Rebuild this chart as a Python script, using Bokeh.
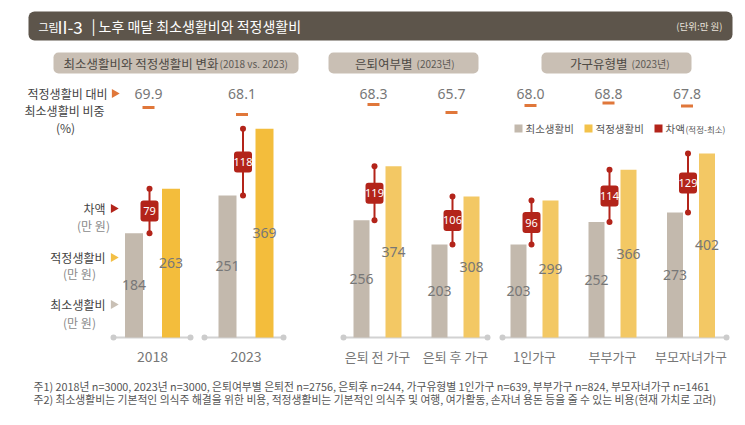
import math
from bokeh.plotting import figure
from bokeh.models import Range1d
from bokeh.core.properties import value
from bokeh.embed import file_html
from bokeh.resources import INLINE

# ---------------- data ----------------
years = ["2018", "2023"]
year_min = [184, 251]
year_opt = [263, 369]
year_diff = [79, 118]
year_ratio = [69.9, 68.1]

retire_cats = ["은퇴 전 가구", "은퇴 후 가구"]
retire_min = [256, 203]
retire_opt = [374, 308]
retire_diff = [119, 106]
retire_ratio = [68.3, 65.7]

house_cats = ["1인가구", "부부가구", "부모자녀가구"]
house_min = [203, 252, 273]
house_opt = [299, 366, 402]
house_diff = [96, 114, 129]
house_ratio = [68.0, 68.8, 67.8]

title_prefix = "그림"
title_num = "II-3"
title_main = "노후 매달 최소생활비와 적정생활비"
unit_text = "(단위:만 원)"
header_left = ("최소생활비와 적정생활비 변화", "(2018 vs. 2023)")
header_mid = ("은퇴여부별", "(2023년)")
header_right = ("가구유형별", "(2023년)")
legend_items = ["최소생활비", "적정생활비", "차액"]
legend_note = "(적정-최소)"
note1 = "주1) 2018년 n=3000, 2023년 n=3000, 은퇴여부별 은퇴전 n=2756, 은퇴후 n=244, 가구유형별 1인가구 n=639, 부부가구 n=824, 부모자녀가구 n=1461"
note2 = "주2) 최소생활비는 기본적인 의식주 해결을 위한 비용,  적정생활비는 기본적인 의식주 및 여행, 여가활동, 손자녀 용돈 등을 줄 수 있는 비용(현재 가치로 고려)"

# ---------------- style ----------------
KR = "Noto Sans CJK KR"
NUM = "Noto Sans"
GRAY = "#c3b9ad"
YEL_L = "#f3bd3c"
YEL_R = "#f3c864"
RED = "#b3241a"
ORANGE = "#e0773a"
DARK = "#5d554b"
HEAD = "#c9bfb4"
AXIS = "#d2d2d2"
TXT = "#444444"
VAL = "#777777"

W, H = 740, 418
p = figure(width=W, height=H, output_backend="svg", toolbar_location=None,
           x_range=Range1d(0, W), y_range=Range1d(H, 0),
           x_axis_location=None, y_axis_location=None, min_border=0,
           outline_line_color=None, tools="")
p.grid.visible = False
p.background_fill_color = "white"
p.border_fill_color = "white"

# value scales (baseline at y=337)
BASE = 337
kL, kR = 0.566, 0.458
p.extra_y_ranges = {
    "barL": Range1d(-(H - BASE) / kL, BASE / kL),
    "barR": Range1d(-(H - BASE) / kR, BASE / kR),
    "ratL": Range1d(69.9 - (H - 107) / 3.89, 69.9 + 107 / 3.89),
    "ratR": Range1d(68.0 - (H - 105) / 3.0, 68.0 + 105 / 3.0),
}


def txt(x, y, s, size, color, align="left", font=KR, style="normal", rng=None, baseline="middle"):
    kw = {"y_range_name": rng} if rng else {}
    p.text(x=x if isinstance(x, list) else [x], y=y if isinstance(y, list) else [y],
           text=s if isinstance(s, list) else [s],
           text_font=value(font), text_font_size=size, text_color=color,
           text_align=align, text_baseline=baseline, text_font_style=style, **kw)


# ---------------- title bar ----------------
p.quad(left=28, right=732, top=11, bottom=40, fill_color=DARK, line_color=None, border_radius=6)
txt(38, 26, title_prefix, "11px", "white")
txt(57, 25.5, title_num, "17px", "white", font=KR)
txt(91, 25, "|", "15px", "white", font=KR)
txt(98, 25.5, title_main, "14px", "white")
txt(722, 25.5, unit_text, "9.5px", "#e8e2da", align="right")

# ---------------- panel headers ----------------
for (l, r, split, gap, (a, b)) in [(53, 298, 218, 1, header_left), (328, 478, 412, 4, header_mid),
                                   (541, 691, 627, 4, header_right)]:
    p.quad(left=l, right=r, top=52, bottom=73, fill_color=HEAD, line_color=None, border_radius=5)
    txt(split, 62.5, a, "12.5px", "#4e4a45", align="right")
    txt(split + gap, 63, b, "10px", "#5e5a55", align="left")

# ---------------- left-side labels ----------------
txt(107, 93, "적정생활비 대비", "12px", TXT, align="right")
txt(64, 110, "최소생활비 비중", "12px", TXT, align="center")
txt(65, 127, "(%)", "12px", TXT, align="center")
txt(105, 208, "차액", "12px", TXT, align="right")
txt(93, 225, "(만 원)", "12px", "#8a8a8a", align="center")
txt(105, 257, "적정생활비", "12px", TXT, align="right")
txt(79, 273, "(만 원)", "12px", "#8a8a8a", align="center")
txt(105, 304, "최소생활비", "12px", TXT, align="right")
txt(79, 322, "(만 원)", "12px", "#8a8a8a", align="center")
p.scatter(x=[114, 113, 113, 113], y=[93, 208, 257, 304], marker="triangle",
          angle=-math.pi / 2, size=9, line_color=None,
          fill_color=[ORANGE, RED, "#f3bf45", "#c9c0b5"])

# ---------------- legend ----------------
p.scatter(x=[518, 588, 658], y=[128, 128, 128], marker="square", size=8, line_color=None,
          fill_color=[GRAY, "#f3c24a", RED])
txt(525, 128, legend_items[0], "10.5px", "#555555")
txt(595, 128, legend_items[1], "10.5px", "#555555")
txt(665, 128, legend_items[2], "10.5px", "#555555")
txt(685, 128.5, legend_note, "8.5px", "#555555")

# ---------------- axis lines ----------------
for (a, b) in [(113, 190), (204, 283), (343, 487), (502, 726)]:
    p.segment(x0=[a], y0=[BASE], x1=[b], y1=[BASE], line_color=AXIS, line_width=2)
    p.scatter(x=[a, b], y=[BASE, BASE], size=6, fill_color="#cccccc", line_color=None)


def panel(centers, mins, opts, diffs, ratios, cats, brng, rrng, half, bw, ycol, cat_size):
    gx = [c - half for c in centers]
    yx = [c + half for c in centers]
    mx = [c - 3 for c in centers]
    n = len(centers)
    p.vbar(x=gx, top=mins, bottom=0, width=bw, fill_color=GRAY, line_color=None, y_range_name=brng)
    p.vbar(x=yx, top=opts, bottom=0, width=bw, fill_color=ycol, line_color=None, y_range_name=brng)
    txt(gx, [m / 2 for m in mins], [str(m) for m in mins], "14px", VAL, align="center", font=NUM, rng=brng)
    txt(yx, [o / 2 for o in opts], [str(o) for o in opts], "14px", VAL, align="center", font=NUM, rng=brng)
    # difference markers
    p.segment(x0=mx, y0=mins, x1=mx, y1=opts, line_color=RED, line_width=2, y_range_name=brng)
    p.scatter(x=mx + mx, y=mins + opts, size=6, fill_color=RED, line_color=None, y_range_name=brng)
    mids = [(a + b) / 2 for a, b in zip(mins, opts)]
    p.rect(x=mx, y=mids, width=18, height=21, width_units="screen", height_units="screen",
           fill_color=RED, line_color=None, border_radius=3, y_range_name=brng)
    txt(mx, mids, [str(d) for d in diffs], "11px", "white", align="center", font=NUM, rng=brng)
    # ratio
    txt([c - 4 for c in centers], [93] * n, [f"{r:.1f}" for r in ratios], "14px", VAL, align="center", font=NUM)
    p.rect(x=[c - 4 for c in centers], y=ratios, width=12, height=3, width_units="screen", height_units="screen",
           fill_color=ORANGE, line_color=None, y_range_name=rrng)
    # categories
    txt(centers, [356] * n, cats, cat_size, VAL, align="center", font=KR)


panel([152, 245.5], year_min, year_opt, year_diff, year_ratio, years, "barL", "ratL", 18.5, 18, YEL_L, "14px")
panel([377, 455], retire_min, retire_opt, retire_diff, retire_ratio, retire_cats, "barR", "ratR", 16, 16, YEL_R, "13px")
panel([534, 612, 690.5], house_min, house_opt, house_diff, house_ratio, house_cats, "barR", "ratR", 16, 16, YEL_R, "13px")

# ---------------- footnotes ----------------
txt(33, 385, note1, "10.8px", "#555555")
txt(33, 398, note2, "10.8px", "#555555")

open("out.html", "w").write(file_html(p, INLINE))
